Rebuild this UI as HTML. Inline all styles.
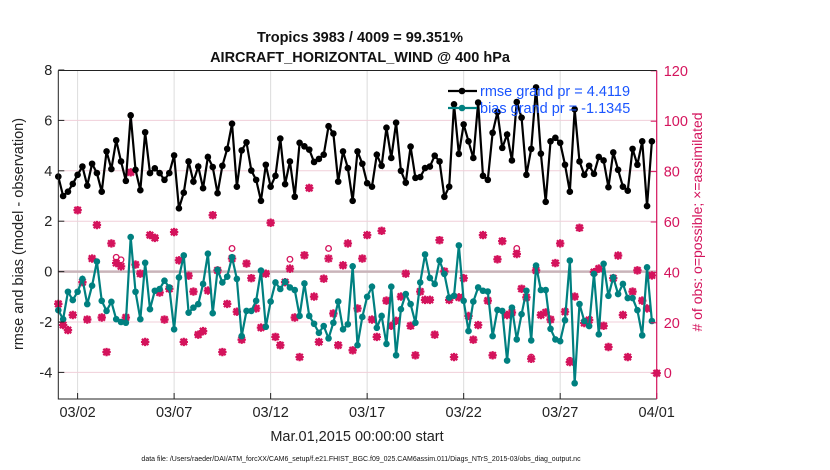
<!DOCTYPE html>
<html><head><meta charset="utf-8"><style>
body{margin:0;background:#fff;}
svg{display:block;font-family:"Liberation Sans",Arial,sans-serif;}
</style></head><body>
<svg id="chart" width="830" height="470" viewBox="0 0 830 470" xmlns="http://www.w3.org/2000/svg">
<rect width="830" height="470" fill="#fff"/>
<text x="360" y="42" text-anchor="middle" font-size="14.5" font-weight="bold" fill="#111">Tropics 3983 / 4009 = 99.351%</text>
<text x="360" y="62" text-anchor="middle" font-size="14.5" font-weight="bold" fill="#111">AIRCRAFT_HORIZONTAL_WIND @ 400 hPa</text>
<g id="grid"></g>
<g id="marks"></g>
<g id="axes"></g>
<text transform="translate(23,234) rotate(-90)" text-anchor="middle" font-size="14.5" fill="#222">rmse and bias (model - observation)</text>
<text transform="translate(702,222) rotate(-90)" text-anchor="middle" font-size="14" fill="#d4135c">  # of obs: o=possible; ×=assimilated</text>
<text x="357" y="441" text-anchor="middle" font-size="14.5" fill="#222">Mar.01,2015 00:00:00 start</text>
<text x="361" y="461" text-anchor="middle" font-size="7" fill="#111">data file: /Users/raeder/DAI/ATM_forcXX/CAM6_setup/f.e21.FHIST_BGC.f09_025.CAM6assim.011/Diags_NTrS_2015-03/obs_diag_output.nc</text>
<g id="legend"></g>
</svg>
<script>
const rmse=[3.77,3.0,3.17,3.48,3.84,4.17,3.41,4.28,3.91,3.17,4.77,4.07,5.21,4.37,3.6,6.2,4.04,3.23,5.53,3.91,4.1,3.91,3.64,3.91,4.61,2.51,3.13,4.37,3.57,4.17,3.31,4.55,4.15,3.11,4.2,4.87,5.87,3.37,4.81,5.13,4.01,3.64,2.81,
4.24,3.37,3.8,5.28,3.47,4.37,2.97,5.11,4.97,4.84,4.35,4.47,4.64,5.77,5.48,3.57,4.77,4.11,2.81,4.77,4.28,3.51,3.37,4.64,4.2,5.71,4.51,5.91,4.0,3.53,4.96,3.72,3.75,4.11,4.17,4.6,4.37,2.97,3.37,6.64,4.67,
5.84,5.17,4.51,6.71,3.8,3.64,5.51,6.33,4.91,5.44,4.41,6.73,6.11,3.84,4.87,7.31,4.68,2.77,5.17,5.31,5.11,4.24,3.17,6.44,4.37,3.84,4.2,3.88,4.55,4.41,3.35,4.73,4.04,3.37,3.21,4.87,4.24,5.17,2.6,5.17];
const bias=[-1.53,-1.89,-0.8,-1.13,-0.8,-0.29,-1.29,-0.56,0.4,-1.16,-1.56,-1.2,-1.89,-2.0,-2.03,1.37,-0.8,-1.89,0.35,-1.49,-0.76,-0.69,-0.36,-0.63,-2.29,-0.23,0.64,-1.63,-1.43,-1.29,-0.49,0.71,-1.65,0.07,-0.43,-0.2,0.57,-0.29,-2.56,-1.56,-1.56,-1.16,0.04,
-2.19,-1.19,-0.43,-0.69,-0.4,-0.63,-0.73,-1.76,-0.47,-1.76,-2.07,-2.43,-2.16,-2.65,-2.03,-1.19,-2.29,-2.09,0.21,-2.92,-1.8,-1.0,-0.6,-2.23,-1.76,-2.87,-0.6,-3.32,-1.49,-0.89,-1.29,-2.03,-0.43,0.68,-0.25,-0.49,0.44,-0.09,-1.03,-0.96,1.04,
-1.16,-2.36,-1.19,-0.63,-0.76,-0.79,-2.56,-1.52,-1.56,-3.53,-1.43,-2.69,-1.69,-0.76,-2.73,0.24,-0.73,-0.73,-2.27,-2.69,-2.76,-1.93,0.44,-4.43,-1.29,-1.96,-2.16,-0.09,-2.49,0.31,-0.96,-0.23,-0.89,-0.49,-1.05,-1.05,-1.53,-2.53,0.17,-1.96];
const nassim=[27.5,19.1,17.1,23.1,64.7,36.1,21.3,45.5,58.8,22.1,8.4,51.5,43.7,42.4,22.1,79.7,43.1,39.5,12.4,54.8,53.7,32,21.3,33.5,56,44.8,12.4,38.7,32.4,15.3,16.7,32.8,62.7,40.8,8.4,27.5,45.5,24.4,13.3,43.5,37.7,25.7,18.1,
39.5,59.7,14.4,11.1,36.1,41.5,22.1,6.4,46.8,73.5,30.4,12.4,37.5,45.5,23.7,11.1,42.8,51.5,9.1,25.7,45.5,54.8,21.3,14.4,56.5,28.8,18.8,20.8,30.4,39.5,18.8,7.1,32.4,29.1,29.1,15.3,52.8,40.4,29.1,6.4,30.1,
37.7,22.7,13.3,19.1,54.8,28.8,7.1,45.2,52.4,23.1,24.1,47.3,33.5,30.1,5.7,40.8,23.1,24.1,21.3,43.7,51.5,24.4,4.4,30.4,57.7,19.9,21.1,40.1,41.5,18.8,10.4,37.7,46.7,23.1,6.4,32.4,40.8,28.8,25.7,38.8,0];
const nposs=nassim.slice();
nposs[12]=46;nposs[13]=45;nposs[36]=49.5;nposs[48]=45.2;nposs[56]=49.5;nposs[95]=49.5;nposs[98]=6.4;nposs[106]=5.1;
const xTickLabels=["03/02","03/07","03/12","03/17","03/22","03/27","04/01"];
const xTickDays=[1,6,11,16,21,26,31];
const yLeftTicks=[8,6,4,2,0,-2,-4];
const yRightTicks=[120,100,80,60,40,20,0];

const NS="http://www.w3.org/2000/svg";
const X0=58.3,X1=656.7,DAYS=31,TOP=70.5,BOT=399;
const xDay=d=>X0+(X1-X0)*d/DAYS;
const xIdx=i=>xDay(i*0.25);
const yL=v=>271.6-v*25.2;
const yR=v=>373.2-v*2.52;
function mk(tag,attrs,parent){const e=document.createElementNS(NS,tag);for(const k in attrs)e.setAttribute(k,attrs[k]);parent.appendChild(e);return e;}
const grid=document.getElementById('grid'),marks=document.getElementById('marks'),axes=document.getElementById('axes'),legend=document.getElementById('legend');

xTickDays.forEach((d,i)=>{
  const x=xDay(d);
  if(d<DAYS){const g=mk('line',{x1:x,x2:x,y1:TOP,y2:BOT,stroke:'#dcdcdc','stroke-width':1},grid);
  
  }
  const t=mk('line',{x1:x,x2:x,y1:BOT,y2:BOT-6,stroke:'#222','stroke-width':1},axes);
  
  
  const l=mk('text',{x:x,y:BOT+18,'text-anchor':'middle','font-size':14.5,fill:'#222'},axes);
  l.textContent=xTickLabels[i];
  
  
});
yLeftTicks.forEach(v=>{
  const y=yL(v);
  if(v!==8){const g=mk('line',{x1:X0,x2:X1,y1:y,y2:y,stroke:v===0?'#c9b4ba':'#f0cfd9','stroke-width':v===0?2.5:1},grid);
  
  }
  const t=mk('line',{x1:X0,x2:X0+6,y1:y,y2:y,stroke:'#222'},axes);
  
  
  const l=mk('text',{x:X0-6,y:y+5,'text-anchor':'end','font-size':14.5,fill:'#222'},axes);
  l.textContent=v;
  
  
});
yRightTicks.forEach(v=>{
  const y=yR(v);
  const t=mk('line',{x1:X1-6,x2:X1,y1:y,y2:y,stroke:'#d4135c'},axes);
  
  
  const l=mk('text',{x:X1+7,y:y+5,'font-size':14.5,fill:'#d4135c'},axes);
  l.textContent=v;
  
  
});
let a=mk('polyline',{points:`${X0},${TOP} ${X0},${BOT} ${X1},${BOT}`,fill:'none',stroke:'#222','stroke-width':1},axes);


a=mk('line',{x1:X0,x2:X1,y1:TOP,y2:TOP,stroke:'#222'},axes);


a=mk('line',{x1:X1,x2:X1,y1:TOP,y2:BOT,stroke:'#d4135c','stroke-width':1.2},axes);



// obs counts
nposs.forEach((v,i)=>{
  const c=mk('circle',{cx:xIdx(i),cy:yR(v),r:2.8,fill:'none',stroke:'#d4135c','stroke-width':1.3},marks);
  
  
});
nassim.forEach((v,i)=>{
  const x=xIdx(i),y=yR(v),s=4.2,d=3.2;
  const p=mk('path',{d:`M${x-s},${y}H${x+s}M${x},${y-s}V${y+s}M${x-d},${y-d}L${x+d},${y+d}M${x-d},${y+d}L${x+d},${y-d}`,stroke:'#d4135c','stroke-width':2.2},marks);
  
  
});
function series(vals,color,name){
  const pl=mk('polyline',{points:vals.map((v,i)=>xIdx(i)+','+yL(v)).join(' '),fill:'none',stroke:color,'stroke-width':2.2},marks);
  
  
  vals.forEach((v,i)=>{
    const c=mk('circle',{cx:xIdx(i),cy:yL(v),r:3.3,fill:color},marks);
    
    
  });
}
series(rmse,'#000','rmse');
series(bias,'#008080','bias');

// legend
[['#000','rmse grand pr = 4.4119',91],['#008080','bias grand pr = -1.1345',108]].forEach((e,k)=>{
  const g=mk('g',{},legend);
  
  
  mk('line',{x1:448,x2:477,y1:e[2],y2:e[2],stroke:e[0],'stroke-width':2.2},g);
  mk('circle',{cx:462,cy:e[2],r:3.3,fill:e[0]},g);
  const t=mk('text',{x:480,y:e[2]+5,'font-size':14.5,fill:'#1a55ff'},g);
  t.textContent=e[1];
});
</script>
</body></html>
